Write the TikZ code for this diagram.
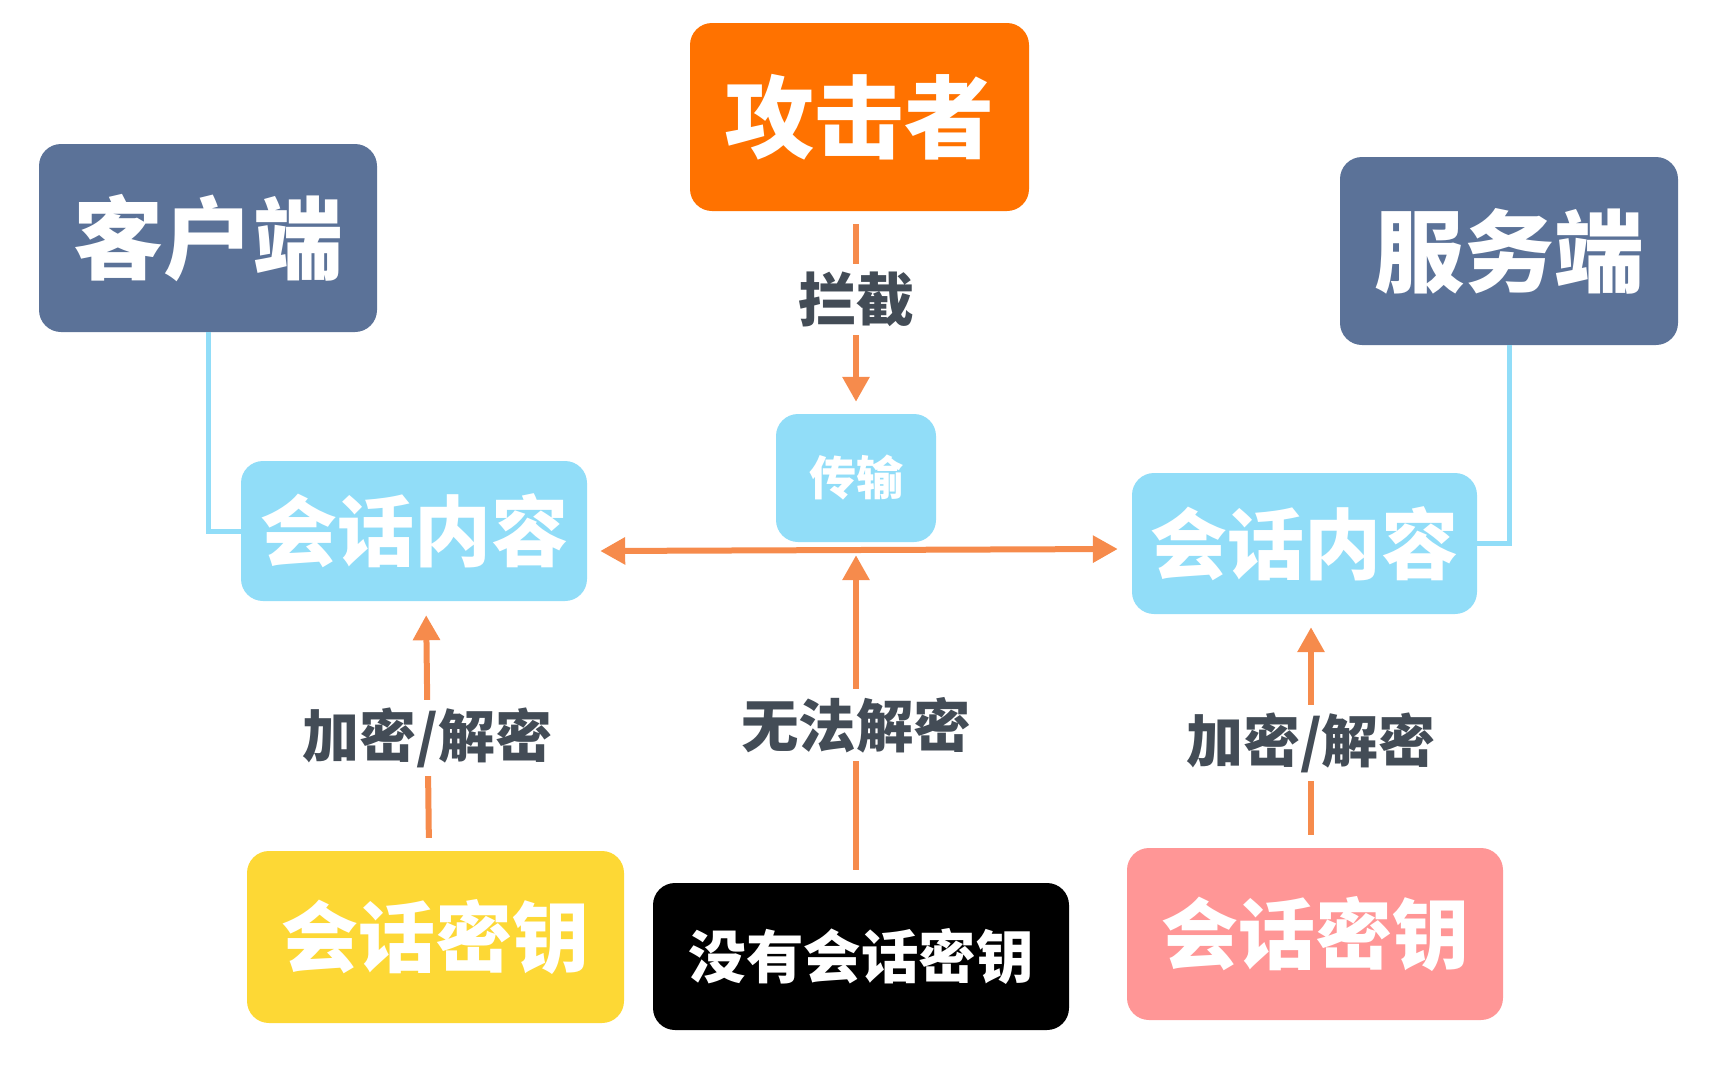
\documentclass[tikz,border=0pt]{standalone}
\usepackage{fontspec}
\newfontfamily\cjk{Noto Sans CJK SC}
\usetikzlibrary{arrows.meta,calc}
\definecolor{slate}{RGB}{91,114,152}
\definecolor{atkc}{RGB}{255,114,0}
\definecolor{skyc}{RGB}{145,221,248}
\definecolor{yelc}{RGB}{253,216,53}
\definecolor{pinkc}{RGB}{255,150,150}
\definecolor{arrc}{RGB}{246,139,76}
\definecolor{labc}{RGB}{67,76,86}
\begin{document}
\begin{tikzpicture}[x=1pt,y=-1pt,
  fs/.style={font=\cjk\bfseries\fontsize{#1pt}{#1pt}\selectfont},
  box/.style={rounded corners=22pt, text=white, inner sep=0pt, align=center},
  lab/.style={fill=white, text=labc, inner sep=8pt, fs=#1},
  arr/.style={draw=arrc, line width=6pt, -{Triangle[width=26pt,length=25pt]}},
  arrtwo/.style={draw=arrc, line width=6pt, {Triangle[width=26pt,length=25pt]}-{Triangle[width=26pt,length=25pt]}},
  link/.style={draw=skyc, line width=5pt}]
\useasboundingbox (0,0) rectangle (1731,1076);

\node[box, fill=atkc, minimum width=339pt, minimum height=188pt, fs=90] (atk) at (859.5,117) {攻击者};
\node[box, fill=slate, minimum width=338pt, minimum height=188pt, fs=90] (kh) at (208,238) {客户端};
\node[box, fill=slate, minimum width=338pt, minimum height=188pt, fs=90] (fw) at (1509,251) {服务端};
\node[box, fill=skyc, minimum width=160pt, minimum height=128pt, fs=47] (cs) at (856,478) {传输};
\node[box, fill=skyc, minimum width=346pt, minimum height=140pt, fs=77] (lc) at (414,531) {会话内容};
\node[box, fill=skyc, minimum width=345pt, minimum height=141pt, fs=77] (rc) at (1304.5,543.5) {会话内容};
\node[box, fill=yelc, minimum width=377pt, minimum height=172pt, fs=77] (yk) at (435.5,937) {会话密钥};
\node[box, fill=black, minimum width=416pt, minimum height=147pt, fs=57.5] (bk) at (861,956.5) {没有会话密钥};
\node[box, fill=pinkc, minimum width=376pt, minimum height=172pt, fs=77] (pk) at (1315,934) {会话密钥};

\draw[link] (kh.south) |- (lc.west);
\draw[link] (fw.south) |- (rc.east);

\draw[arr, shorten <=13pt, shorten >=12pt] (cs.north |- atk.south) -- node[lab=58, pos=0.438] {拦截} (cs.north);
\draw[arrtwo] ($(lc.east)+(13,20)$) -- ($(rc.west)+(-14,5.5)$);
\draw[arr, shorten <=13pt, shorten >=13pt] (cs.south |- bk.north) -- node[lab=57.5, pos=0.463] {无法解密} (cs.south);
\draw[arr, shorten <=13pt, shorten >=14pt] ($(yk.north)+(-6.5,0)$) -- node[lab=57, pos=0.452] {加密/解密} ($(lc.south)+(12,0)$);
\draw[arr, shorten <=13pt, shorten >=13pt] ($(pk.north)+(-4,0)$) -- node[lab=57, pos=0.449] {加密/解密} ($(rc.south)+(6.5,0)$);
\end{tikzpicture}
\end{document}
